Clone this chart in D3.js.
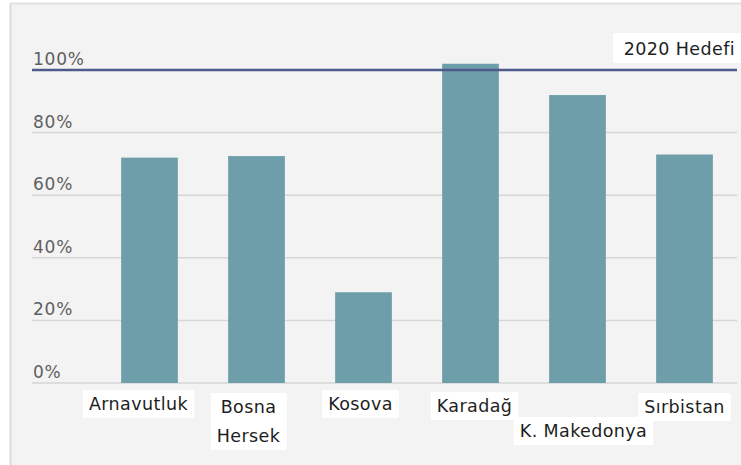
<!DOCTYPE html>
<meta charset="utf-8">
<style>
  body { margin: 0; background: #ffffff; }
  svg { display: block; font-family: 'DejaVu Sans', sans-serif; }
  .tick-label { fill: #5f5f5f; font-size: 17px; letter-spacing: 0.8px; }
  .cat-label { fill: #1e1e1e; font-size: 17.5px; letter-spacing: 0.4px; }
</style>
<body>
<div id="chart"></div>
<script src="https://d3js.org/d3.v7.min.js"></script>
<script>
// data
var countries = ["Arnavutluk", "Bosna Hersek", "Kosova", "Karadağ", "K. Makedonya", "Sırbistan"];
var values = [72, 72.5, 29, 102, 92, 73];
var yTicks = [0, 20, 40, 60, 80, 100];
var targetValue = 100;
var targetLabel = "2020 Hedefi";

var W = 741, H = 465;

var svg = d3.select("#chart").append("svg")
    .attr("width", W)
    .attr("height", H);

// panel background + frame
svg.append("rect").attr("x", 10).attr("y", 3).attr("width", W - 10).attr("height", H - 3)
    .attr("fill", "#f3f3f3");
svg.append("line").attr("x1", 10.5).attr("x2", 10.5).attr("y1", 3).attr("y2", H)
    .attr("stroke", "#dcdcdc").attr("stroke-width", 2);
svg.append("line").attr("x1", 10).attr("x2", W).attr("y1", 3.5).attr("y2", 3.5)
    .attr("stroke", "#e2e2e2").attr("stroke-width", 2);

var x = d3.scaleBand()
    .domain(countries)
    .range([96, 738])
    .paddingInner(0.47)
    .paddingOuter(0.235);

var y = d3.scaleLinear()
    .domain([0, 100])
    .range([383, 70]);

var gridLeft = 32, gridRight = 737;

// gridlines
svg.append("g").selectAll("line")
    .data(yTicks.filter(function(d) { return d !== targetValue; }))
  .enter().append("line")
    .attr("x1", gridLeft).attr("x2", gridRight)
    .attr("y1", function(d) { return y(d); })
    .attr("y2", function(d) { return y(d); })
    .attr("stroke", "#d6d6d6")
    .attr("stroke-width", 1.5);

// tick labels
svg.append("g").selectAll("text")
    .data(yTicks)
  .enter().append("text")
    .attr("class", "tick-label")
    .attr("x", 33)
    .attr("y", function(d) { return y(d) - 5; })
    .text(function(d) { return d + "%"; });

// bars
svg.append("g").selectAll("rect")
    .data(values)
  .enter().append("rect")
    .attr("x", function(d, i) { return x(countries[i]); })
    .attr("y", function(d) { return y(d); })
    .attr("width", x.bandwidth())
    .attr("height", function(d) { return y(0) - y(d); })
    .attr("fill", "#6e9ea9");

// target line
svg.append("line")
    .attr("x1", gridLeft).attr("x2", gridRight)
    .attr("y1", y(targetValue)).attr("y2", y(targetValue))
    .attr("stroke", "#4d5b8a")
    .attr("stroke-width", 2.5);

// target label with white box
var tg = svg.append("g");
tg.append("rect")
    .attr("x", 613).attr("y", 33).attr("width", 128).attr("height", 30)
    .attr("fill", "#fff");
tg.append("text")
    .attr("x", 735).attr("y", 55)
    .attr("text-anchor", "end")
    .attr("fill", "#1e1e1e")
    .style("font-size", "17.5px")
    .style("letter-spacing", "0.4px")
    .text(targetLabel);

// category labels (lines + shifts)
var labelLines = [["Arnavutluk"], ["Bosna", "Hersek"], ["Kosova"], ["Karadağ"], ["K. Makedonya"], ["Sırbistan"]];
var labelDx = [-11, -8, -3, 4, 6, 0];
var labelDy = [0, 3, 0, 2, 27, 3];

countries.forEach(function(c, i) {
  var g = svg.append("g");
  var cx = x(c) + x.bandwidth() / 2 + labelDx[i];
  var t = g.append("text")
      .attr("class", "cat-label")
      .attr("text-anchor", "middle")
      .attr("x", cx)
      .attr("y", 410 + labelDy[i]);
  labelLines[i].forEach(function(s, j) {
    t.append("tspan").attr("x", cx).attr("dy", j === 0 ? 0 : 29).text(s);
  });
  var b = t.node().getBBox();
  g.insert("rect", "text")
      .attr("x", b.x - 6).attr("y", b.y - 4)
      .attr("width", b.width + 12).attr("height", b.height + 8)
      .attr("fill", "#fff");
});
</script>
</body>
